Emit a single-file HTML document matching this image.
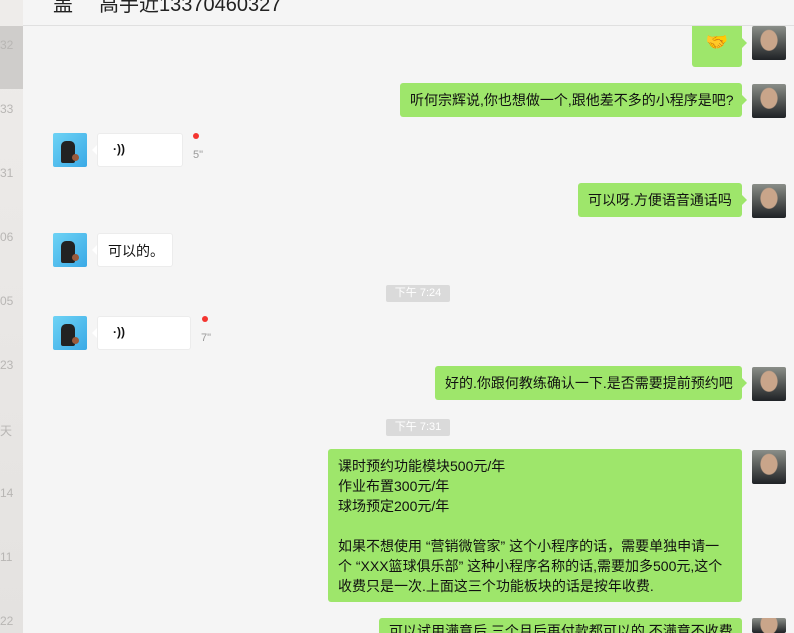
<!DOCTYPE html>
<html><head><meta charset="utf-8"><style>
*{margin:0;padding:0;box-sizing:border-box}
html,body{width:794px;height:633px;overflow:hidden}
body{background:#f5f5f5;font-family:"Liberation Sans","Noto Sans CJK SC",sans-serif;position:relative;color:#111}
.abs{position:absolute}
#side{left:0;top:0;width:23px;height:633px;background:linear-gradient(#eeecea,#e4e2e0)}
.sl{position:absolute;left:0;font-size:12px;color:#b8b6b4;width:12px;overflow:visible}
#hdr{left:23px;top:0;width:771px;height:26px;border-bottom:1px solid #e0e0e0;background:#f5f5f5;overflow:hidden}
.b{position:absolute;border-radius:3px;font-size:14px;line-height:20px;padding:7px 10px;white-space:nowrap}
.g{background:#9ee66b}
.w{background:#fff;border:1px solid #ececec}
.g:after{content:"";position:absolute;right:-5px;top:12px;border-left:5px solid #9ee66b;border-top:5px solid transparent;border-bottom:5px solid transparent}
.w:before{content:"";position:absolute;left:-6px;top:11px;border-right:5px solid #fff;border-top:5px solid transparent;border-bottom:5px solid transparent}
.ra{position:absolute;left:752px;width:34px;height:34px;border-radius:2px;background:radial-gradient(ellipse 9px 11px at 50% 42%,#c9a58a 90%,transparent 100%),linear-gradient(#8a8e88,#4a4d4c 60%,#1f2226);overflow:hidden}
.la{position:absolute;left:53px;width:34px;height:34px;border-radius:2px;background:linear-gradient(135deg,#6ed3f5,#3aa9e6);overflow:hidden}
.la i{position:absolute;left:8px;top:8px;width:14px;height:22px;background:#222;border-radius:5px 5px 2px 2px}
.la s{position:absolute;left:19px;top:21px;width:7px;height:7px;border-radius:50%;background:#9a5a3c}
.tm{position:absolute;left:386px;width:64px;height:17px;background:#dadada;color:#fff;font-size:11px;text-align:center;line-height:17px;border-radius:2px}
.dot{position:absolute;width:6px;height:6px;border-radius:50%;background:#f43530}
.sec{position:absolute;font-size:11px;color:#999}
.vo{position:absolute;font-size:12px;font-weight:bold}
</style></head><body>
<div id="side" class="abs">
<div class="abs" style="left:0;top:26px;width:23px;height:63px;background:#cfcdcb"></div>
<div class="sl" style="top:38px">32</div>
<div class="sl" style="top:102px">33</div>
<div class="sl" style="top:166px">31</div>
<div class="sl" style="top:230px">06</div>
<div class="sl" style="top:294px">05</div>
<div class="sl" style="top:358px">23</div>
<div class="sl" style="top:422px">天</div>
<div class="sl" style="top:486px">14</div>
<div class="sl" style="top:550px">11</div>
<div class="sl" style="top:614px">22</div>
</div>
<div id="hdr" class="abs"><div class="abs" style="left:30px;top:-12px;font-size:20px;color:#222">盖</div><div class="abs" style="left:76px;top:-12px;font-size:20px;color:#222">高手近13370460327</div></div>

<div class="b g" style="left:692px;top:26px;width:50px;height:41px;border-radius:0 0 3px 3px;text-align:center;padding:6px 0;font-size:18px;color:#e8a860">🤝</div>
<div class="ra" style="top:26px"></div>

<div class="b g" style="left:400px;top:83px;width:342px;height:34px">听何宗辉说,你也想做一个,跟他差不多的小程序是吧?</div>
<div class="ra" style="top:84px"></div>

<div class="la" style="top:133px"><i></i><s></s></div>
<div class="b w" style="left:97px;top:133px;width:86px;height:34px"></div>
<div class="vo" style="left:113px;top:142px">·))</div>
<div class="dot" style="left:193px;top:133px"></div>
<div class="sec" style="left:193px;top:149px">5"</div>

<div class="b g" style="left:578px;top:183px;width:164px;height:34px">可以呀.方便语音通话吗</div>
<div class="ra" style="top:184px"></div>

<div class="la" style="top:233px"><i></i><s></s></div>
<div class="b w" style="left:97px;top:233px;width:76px;height:34px">可以的。</div>

<div class="tm" style="top:285px">下午 7:24</div>

<div class="la" style="top:316px"><i></i><s></s></div>
<div class="b w" style="left:97px;top:316px;width:94px;height:34px"></div>
<div class="vo" style="left:113px;top:325px">·))</div>
<div class="dot" style="left:202px;top:316px"></div>
<div class="sec" style="left:201px;top:332px">7"</div>

<div class="b g" style="left:435px;top:366px;width:307px;height:34px">好的.你跟何教练确认一下.是否需要提前预约吧</div>
<div class="ra" style="top:367px"></div>

<div class="tm" style="top:419px">下午 7:31</div>

<div class="b g" style="left:328px;top:449px;width:414px;height:153px;padding:7px 10px;overflow:hidden">课时预约功能模块500元/年<br>作业布置300元/年<br>球场预定200元/年<br><br>如果不想使用 “营销微管家” 这个小程序的话，需要单独申请一<br>个 “XXX篮球俱乐部” 这种小程序名称的话,需要加多500元,这个<br>收费只是一次.上面这三个功能板块的话是按年收费.</div>
<div class="ra" style="top:450px"></div>

<div class="b g" style="left:379px;top:618px;width:363px;height:15px;border-radius:3px 3px 0 0;overflow:hidden;padding-top:3px">可以试用满意后,三个月后再付款都可以的,不满意不收费</div>
<div class="ra" style="top:618px;height:15px"></div>
</body></html>
